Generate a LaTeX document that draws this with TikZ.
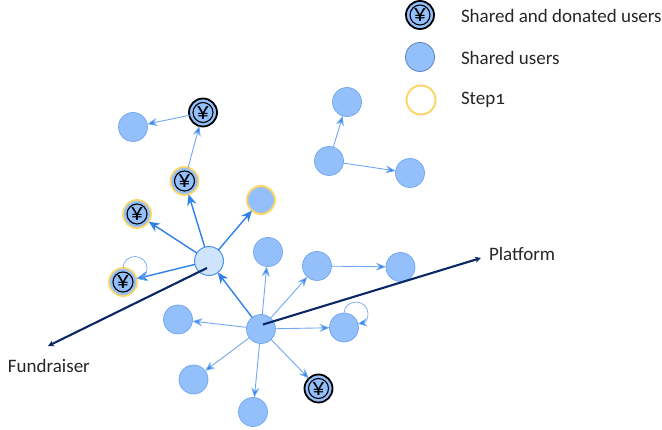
\documentclass[tikz,border=0pt]{standalone}
\usepackage{fontspec}
\setmainfont[Numbers=OldStyle]{Carlito}
\usetikzlibrary{arrows.meta}
\definecolor{nodeblue}{HTML}{93BFFB}
\definecolor{nodeedge}{HTML}{6FA5EE}
\definecolor{lightnode}{HTML}{CFE3FD}
\definecolor{edgeblue}{HTML}{2F80E8}
\definecolor{thinblue}{HTML}{6FA8F2}
\definecolor{navy}{HTML}{0A2766}
\definecolor{stepyellow}{HTML}{FBD66B}
\tikzset{
  every node/.append style={inner sep=0pt,outer sep=0pt},
  user/.style={circle,minimum size=29pt,fill=nodeblue,draw=nodeedge,line width=.7pt},
  legenduser/.style={user,draw=nodeblue!60!navy,line width=.8pt},
  center/.style={user,fill=lightnode,draw=edgeblue!85,line width=1pt},
  stepuser/.style={user,minimum size=28pt,draw=stepyellow,line width=2pt},
  stepring/.style={circle,minimum size=29pt,draw=stepyellow,line width=2pt},
  coin/.style={circle,minimum size=28pt,fill=nodeblue,line width=1.8pt,font=\fontsize{25}{25}\selectfont,
    path picture={\draw[black,line width=1.1pt] (path picture bounding box.center) circle (10pt);}},
  donor/.style={coin,draw=black},
  stepdonor/.style={coin,draw=stepyellow},
  thick edge/.style={draw=edgeblue,line width=1.4pt,-{Stealth[length=11pt,width=9.5pt,fill=edgeblue]}},
  thin edge/.style={draw=thinblue,line width=.9pt,-{Stealth[length=10pt,width=8pt,fill=edgeblue]}},
  loop edge/.style={draw=thinblue,line width=.7pt,-{Stealth[length=9pt,width=8pt,fill=edgeblue]}},
  main edge/.style={draw=navy,line width=2.1pt,-{Stealth[length=6pt,width=6pt]}},
  lab/.style={font=\fontsize{19}{20}\selectfont,text=black!85,anchor=west},
}
\begin{document}
\begin{tikzpicture}[x=1pt,y=-1pt]
\useasboundingbox (0,0) rectangle (662,430);
% legend
\node[donor] (lg1) at (420,15) {¥};
\node[legenduser] (lg2) at (420,57) {};
\node[stepring] (lg3) at (421,100) {};
\node[lab] (t1) at (461,16) {Shared and donated users};
\node[lab] (t2) at (461,58) {Shared users};
\node[lab] (t3) at (461,100) {Step1};
% upper left
\node[donor] (d0) at (203,112.5) {¥};
\node[user] (a0) at (133,127) {};
\node[stepdonor] (d1) at (184.5,181) {¥};
\node[stepdonor] (d2) at (137,214) {¥};
\node[stepdonor] (d3) at (123,282) {¥};
\node[stepuser] (s1) at (261,200) {};
\node[center] (c) at (209,261) {};
% hub
\node[user] (h) at (261,329) {};
\node[user] (b1) at (268,252) {};
\node[user] (b2) at (317,266) {};
\node[user] (b3) at (400.5,267) {};
\node[user] (b4) at (178,319.5) {};
\node[user] (b5) at (344,327.5) {};
\node[user] (b6) at (193.5,379.5) {};
\node[user] (b7) at (253,412) {};
\node[donor] (d4) at (318.5,388.5) {¥};
% upper right
\node[user] (r1) at (347,102) {};
\node[user] (r2) at (329,161) {};
\node[user] (r3) at (410,173) {};
% edges
\draw[thin edge] (d0) -- (a0);
\draw[thin edge] (d1) -- (d0);
\draw[thick edge] (c) -- (d1);
\draw[thick edge] (c) -- (d2);
\draw[thick edge] (c) -- (d3);
\draw[thick edge] (c) -- (s1);
\draw[thick edge] (h) -- (c);
\draw[thin edge] (h) -- (b1);
\draw[thin edge] (h) -- (b2);
\draw[thin edge] (b2) -- (b3);
\draw[thin edge] (h) -- (b4);
\draw[thin edge] (h) -- (b5);
\draw[thin edge] (h) -- (b6);
\draw[thin edge] (h) -- (b7);
\draw[thin edge] (h) -- (d4);
\draw[thin edge] (r2) -- (r1);
\draw[thin edge] (r2) -- (r3);
\draw[loop edge] (d3.90) .. controls (123,261) and (129,256.5) .. (135,256.5) .. controls (141.5,256.5) and (147,261.5) .. (147,268) .. controls (147,273) and (145,277) .. (d3.15);
\draw[loop edge] (b5.90) .. controls (344,306.5) and (350,302) .. (356,302) .. controls (362.5,302) and (368,307) .. (368,313.5) .. controls (368,318.5) and (366,322.5) .. (b5.15);
% main arrows
\coordinate (pstart) at (263,324.5);
\coordinate (pend) at (481,258);
\coordinate (fstart) at (207,268);
\coordinate (fend) at (48,346);
\draw[main edge] (pstart) -- (pend);
\draw[main edge] (fstart) -- (fend);
\node[lab] (pl) at (489,254) {Platform};
\node[lab] (fr) at (8,366) {Fundraiser};
\end{tikzpicture}
\end{document}
